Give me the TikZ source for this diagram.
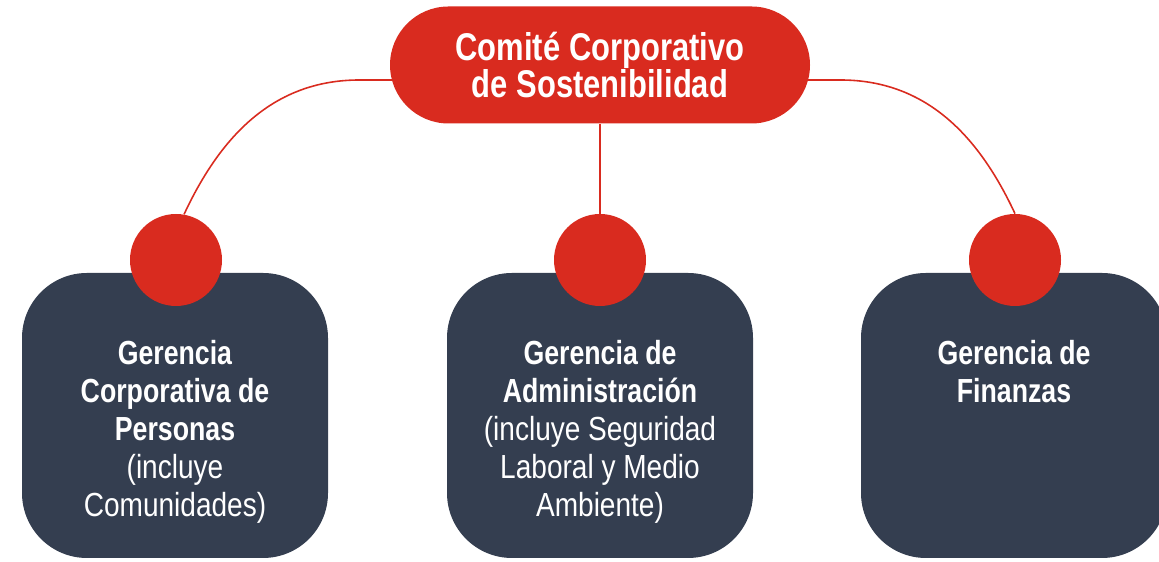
\documentclass[tikz,border=0pt]{standalone}
\usepackage{fontspec}
\setmainfont{Liberation Sans}[FakeStretch=0.84, BoldFeatures={FakeStretch=0.8}]
\usepackage{tikz}
\usetikzlibrary{positioning}

\definecolor{comitered}{HTML}{D92B1F}
\definecolor{gerencianavy}{HTML}{343E50}

\begin{document}
\begin{tikzpicture}[
    comite/.style={rectangle, rounded corners=1.17cm, minimum width=8.4cm, minimum height=2.34cm, fill=comitered, text=white, font=\fontsize{22}{20.5}\selectfont\bfseries, align=center},
    gerencia/.style={rectangle, rounded corners=1.3cm, minimum width=6.12cm, minimum height=5.7cm, fill=gerencianavy},
    dot/.style={circle, minimum size=1.84cm, inner sep=0pt, fill=comitered},
    boxtext/.style={text=white, font=\fontsize{19}{21.6}\selectfont, align=center, inner sep=0pt, anchor=north},
    link/.style={draw=comitered, line width=0.9pt}
]
\useasboundingbox (0,0) rectangle (23.18,11.24);

% Define the nodes for the committee and the three managements
\node[comite] (comite) at (12.0,9.94) {Comité Corporativo\\de Sostenibilidad};
\node[gerencia] (personas) at (3.5,2.93) {};
\node[gerencia] (administracion) at (12.0,2.93) {};
\node[gerencia] (finanzas) at (20.28,2.93) {};

% Red dots on top of each box
\node[dot] (personas-dot) at (3.52,6.04) {};
\node[dot] (administracion-dot) at (12.0,6.04) {};
\node[dot] (finanzas-dot) at (20.3,6.04) {};

% Texts inside the boxes
\node[boxtext, below=1.34cm of personas.north] (personas-txt) {\textbf{Gerencia}\\\textbf{Corporativa de}\\\textbf{Personas}\\(incluye\\Comunidades)};
\node[boxtext, below=1.34cm of administracion.north] (administracion-txt) {\textbf{Gerencia de}\\\textbf{Administración}\\(incluye Seguridad\\Laboral y Medio\\Ambiente)};
\node[boxtext, below=1.34cm of finanzas.north] (finanzas-txt) {\textbf{Gerencia de}\\\textbf{Finanzas}};

% Connect the committee with the dots
\draw[link] ([xshift=0.1cm,yshift=-0.3cm]comite.west) -- ++(-0.7,0) to[out=180, in=65] (personas-dot.80);
\draw[link] (comite.south) -- (administracion-dot.north);
\draw[link] ([xshift=-0.1cm,yshift=-0.3cm]comite.east) -- ++(0.7,0) to[out=0, in=115] (finanzas-dot.north);

\end{tikzpicture}
\end{document}
